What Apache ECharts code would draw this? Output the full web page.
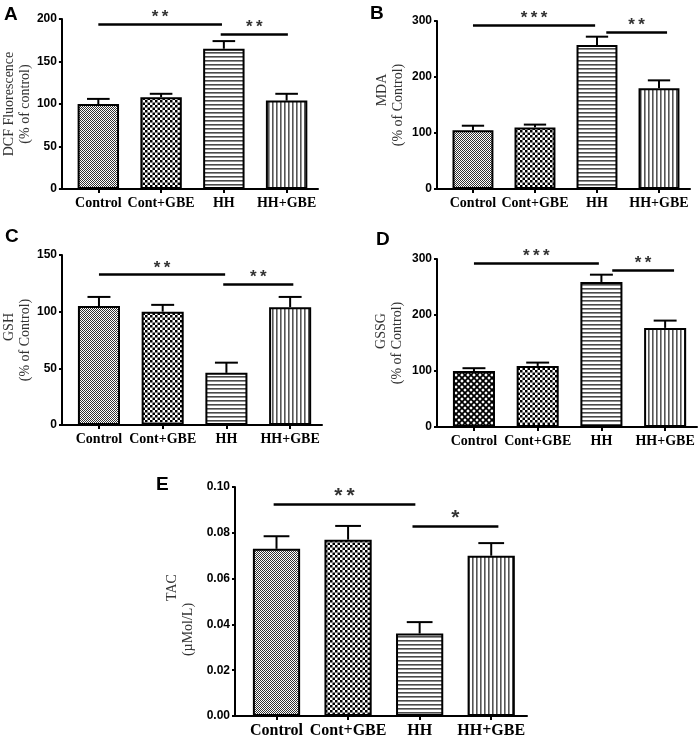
<!DOCTYPE html>
<html>
<head>
<meta charset="utf-8">
<script src="https://cdn.jsdelivr.net/npm/echarts@6/dist/echarts.min.js"></script>
<style>
  html, body { margin: 0; padding: 0; background: #fff; }
  #main { width: 699px; height: 741px; }
</style>
</head>
<body>
<div id="main"></div>
<script>
// groups on the x axis
var groups = ['Control', 'Cont+GBE', 'HH', 'HH+GBE'];

// A - DCF fluorescence (% of control)
var dcfMean = [100, 108, 165, 104];
var dcfErr  = [6, 4, 9, 8];
var dcfTicks = [0, 50, 100, 150, 200];
var dcfSig = [[0, 1.97, 194, '**'], [1.95, 3.02, 182, '**']];

// B - MDA (% of control)
var mdaMean = [105, 110, 257, 180];
var mdaErr  = [8, 5, 15, 14];
var mdaTicks = [0, 100, 200, 300];
var mdaSig = [[0, 1.97, 293, '***'], [2.15, 3.13, 280, '**']];

// C - GSH (% of control)
var gshMean = [105, 100, 46, 104];
var gshErr  = [8, 6, 9, 9];
var gshTicks = [0, 50, 100, 150];
var gshSig = [[0, 1.98, 132.7, '**'], [1.95, 3.05, 124.2, '**']];

// D - GSSG (% of control)
var gssgMean = [100, 109, 259, 177];
var gssgErr  = [5, 6, 13, 13];
var gssgTicks = [0, 100, 200, 300];
var gssgSig = [[0, 1.96, 292.3, '***'], [2.17, 3.14, 280.3, '**']];

// E - TAC (µMol/L)
var tacMean = [0.073, 0.077, 0.036, 0.070];
var tacErr  = [0.0055, 0.006, 0.005, 0.0055];
var tacTicks = [0, 0.02, 0.04, 0.06, 0.08, 0.10];
var tacSig = [[-0.04, 1.94, 0.0924, '**'], [1.9, 3.1, 0.0828, '*']];

// fill patterns
function tile(w, h, draw) {
  var c = document.createElement('canvas');
  c.width = w; c.height = h;
  var g = c.getContext('2d');
  g.fillStyle = '#fff';
  g.fillRect(0, 0, w, h);
  draw(g);
  return { image: c, repeat: 'repeat' };
}
var fineChecker = tile(2, 2, function (g) {
  g.fillStyle = '#333';
  g.fillRect(0, 0, 1, 1); g.fillRect(1, 1, 1, 1);
});
var checker = tile(5, 5, function (g) {
  g.fillStyle = '#000';
  g.fillRect(0, 0, 2.5, 2.5); g.fillRect(2.5, 2.5, 2.5, 2.5);
});
var diamond = tile(6, 6, function (g) {
  g.strokeStyle = '#000'; g.lineWidth = 1.8;
  g.beginPath();
  g.moveTo(-1, -1); g.lineTo(7, 7);
  g.moveTo(-1, 7); g.lineTo(7, -1);
  g.stroke();
});
var hLines = tile(4, 4, function (g) {
  g.fillStyle = '#4a4a4a'; g.fillRect(0, 0, 4, 1.6);
});
var vLines = tile(4, 4, function (g) {
  g.fillStyle = '#555'; g.fillRect(0, 0, 1.6, 4);
});

var panels = [
  { key: 'A', mean: dcfMean, err: dcfErr, ticks: dcfTicks, sig: dcfSig,
    fills: [fineChecker, checker, hLines, vLines],
    name: ['DCF Fluorescence', '(% of control)'], pad: [0, 0], nameGap: 28,
    grid: { left: 59, top: 19, width: 259, height: 170 }, title: [4, 5], catSize: 14, starSize: 17 },
  { key: 'B', mean: mdaMean, err: mdaErr, ticks: mdaTicks, sig: mdaSig,
    fills: [fineChecker, checker, hLines, vLines],
    name: ['MDA', '(% of Control)'], pad: [30, 0], nameGap: 31,
    grid: { left: 437, top: 21, width: 253, height: 168 }, title: [370, 4], catSize: 14, starSize: 17 },
  { key: 'C', mean: gshMean, err: gshErr, ticks: gshTicks, sig: gshSig,
    fills: [fineChecker, checker, hLines, vLines],
    name: ['GSH', '(% of Control)'], pad: [26, 0], nameGap: 27,
    grid: { left: 62, top: 255, width: 260, height: 170 }, title: [5, 227], catSize: 14, starSize: 17 },
  { key: 'D', mean: gssgMean, err: gssgErr, ticks: gssgTicks, sig: gssgSig,
    fills: [diamond, checker, hLines, vLines],
    name: ['GSSG', '(% of Control)'], pad: [24, 0], nameGap: 32,
    grid: { left: 437, top: 259, width: 260, height: 168 }, title: [376, 230], catSize: 14, starSize: 17 },
  { key: 'E', mean: tacMean, err: tacErr, ticks: tacTicks, sig: tacSig,
    fills: [fineChecker, checker, hLines, vLines],
    name: ['TAC', '(µMol/L)'], pad: [28, 56], nameGap: 39,
    grid: { left: 235, top: 487, width: 292, height: 229 }, title: [156, 475], catSize: 16, starSize: 21 }
];

var option = {
  animation: false,
  backgroundColor: '#fff',
  title: [], grid: [], xAxis: [], yAxis: [], series: []
};

panels.forEach(function (p, k) {
  option.title.push({
    text: p.key, left: p.title[0], top: p.title[1], padding: 0,
    textStyle: { fontFamily: 'Liberation Sans', fontWeight: 'bold', fontSize: 19, color: '#000' }
  });
  option.grid.push(p.grid);
  option.xAxis.push({
    type: 'value', gridIndex: k, min: -0.58, max: 3.5,
    splitLine: { show: false },
    axisLine: { show: true, onZero: false, lineStyle: { color: '#000', width: 2 } },
    axisTick: { show: true, length: 4, lineStyle: { color: '#000', width: 2 }, customValues: [0, 1, 2, 3] },
    axisLabel: {
      customValues: [0, 1, 2, 3], margin: 7,
      formatter: function (v) { return groups[Math.round(v)]; },
      fontFamily: 'Liberation Serif', fontWeight: 'bold', fontSize: p.catSize, color: '#000'
    }
  });
  var step = p.ticks[1] - p.ticks[0];
  option.yAxis.push({
    type: 'value', gridIndex: k,
    min: p.ticks[0], max: p.ticks[p.ticks.length - 1], interval: step,
    splitLine: { show: false },
    axisLine: { show: true, onZero: false, lineStyle: { color: '#000', width: 2 } },
    axisTick: { show: true, length: 3, lineStyle: { color: '#000', width: 2 } },
    axisLabel: {
      margin: 5, fontFamily: 'Liberation Sans', fontWeight: 'bold', fontSize: 12, color: '#000',
      formatter: function (v) { return step < 1 ? v.toFixed(2) : String(v); }
    },
    name: '{a|' + p.name[0] + '}\n{b|' + p.name[1] + '}',
    nameLocation: 'middle', nameRotate: 90, nameGap: p.nameGap,
    nameTextStyle: {
      fontFamily: 'Liberation Serif', fontSize: 14, color: '#333', lineHeight: 16,
      rich: {
        a: { fontFamily: 'Liberation Serif', fontSize: 14, color: '#333', lineHeight: 16, align: 'center', padding: [0, 0, 0, p.pad[0]] },
        b: { fontFamily: 'Liberation Serif', fontSize: 14, color: '#333', lineHeight: 16, align: 'center', padding: [0, p.pad[1], 0, 0] }
      }
    }
  });
  option.series.push({
    type: 'bar', xAxisIndex: k, yAxisIndex: k, barWidth: '66%',
    data: p.mean.map(function (v, i) {
      return { value: [i, v], itemStyle: { color: p.fills[i] } };
    }),
    itemStyle: { borderColor: '#000', borderWidth: 2 },
    markLine: {
      silent: true, symbol: 'none',
      lineStyle: { color: '#000', width: 2.5, type: 'solid' },
      label: {
        show: true, position: 'insideMiddleTop', distance: -2,
        formatter: function (d) { return d.name.split('').join('\u2009'); },
        fontFamily: 'Liberation Sans', fontWeight: 'bold', fontSize: p.starSize, color: '#333'
      },
      data: p.sig.map(function (s) {
        return [{ name: s[3], coord: [s[0], s[2]] }, { coord: [s[1], s[2]] }];
      })
    }
  });
  option.series.push({
    type: 'custom', xAxisIndex: k, yAxisIndex: k, clip: false, z: 3,
    encode: { x: 0, y: 1 },
    data: p.mean.map(function (v, i) { return [i, v, p.err[i]]; }),
    renderItem: function (params, api) {
      var x = api.value(0), m = api.value(1), e = api.value(2);
      var base = api.coord([x, m]);
      var top = api.coord([x, m + e]);
      var hw = api.size([0.18, 0])[0];
      return {
        type: 'group',
        children: [
          { type: 'line', shape: { x1: base[0], y1: base[1], x2: top[0], y2: top[1] }, style: { stroke: '#000', lineWidth: 2 } },
          { type: 'line', shape: { x1: top[0] - hw, y1: top[1], x2: top[0] + hw, y2: top[1] }, style: { stroke: '#000', lineWidth: 2 } }
        ]
      };
    }
  });
});

var myChart = echarts.init(document.getElementById('main'));
myChart.setOption(option);
</script>
</body>
</html>
